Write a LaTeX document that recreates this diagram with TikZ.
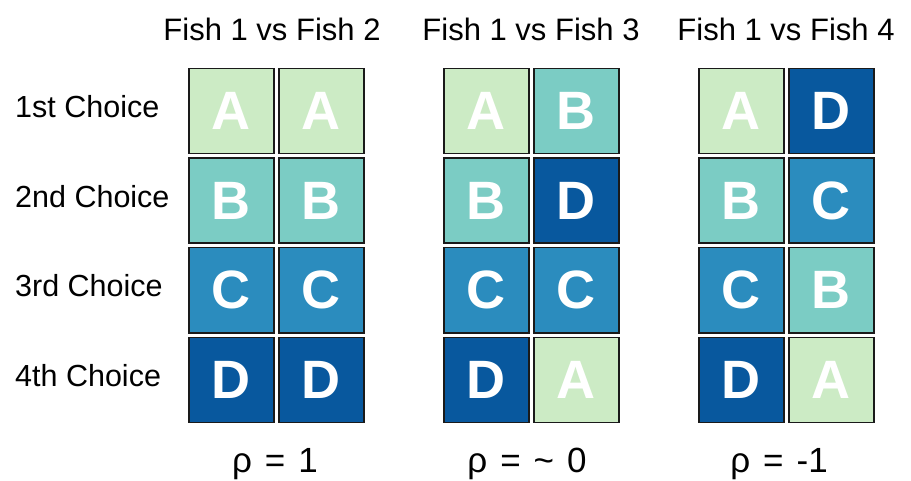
\documentclass[tikz,border=0pt]{standalone}
\usepackage{fontspec}
\setmainfont{Liberation Sans}
\definecolor{cA}{HTML}{CCEBC5}
\definecolor{cB}{HTML}{7BCCC4}
\definecolor{cC}{HTML}{2B8CBE}
\definecolor{cD}{HTML}{08589E}
\definecolor{edge}{HTML}{1A1A1A}
\tikzset{
  cell/.style={draw=edge, line width=1.5pt, minimum size=85pt, inner sep=0pt,
    anchor=north west, text=white, font=\fontsize{54}{54}\selectfont\bfseries},
  title/.style={anchor=base, inner sep=0pt, font=\fontsize{31}{31}\selectfont},
  rowlab/.style={anchor=base west, inner sep=0pt, font=\fontsize{30.5}{30.5}\selectfont},
  rholab/.style={anchor=base, inner sep=0pt, font=\fontsize{35}{35}\selectfont},
}
\newcommand{\gap}{\hspace{13pt}}
\begin{document}
\begin{tikzpicture}[x=1pt,y=1pt]
\useasboundingbox[fill=white] (0,0) rectangle (911,-481);
% titles
\node[title] (t1) at (272,-41) {Fish 1 vs Fish 2};
\node[title] (t2) at (531,-41) {Fish 1 vs Fish 3};
\node[title] (t3) at (786,-41) {Fish 1 vs Fish 4};
% row labels
\node[rowlab] (r1) at (15,-118) {1st Choice};
\node[rowlab] (r2) at (15,-207.5) {2nd Choice};
\node[rowlab] (r3) at (15,-297) {3rd Choice};
\node[rowlab] (r4) at (15,-386.5) {4th Choice};
% cells
\foreach \g/\xa/\xb/\la/\lb/\lc/\ld/\ma/\mb/\mc/\md in {
  1/188/278/A/B/C/D/A/B/C/D,
  2/443/533/A/B/C/D/B/D/C/A,
  3/698/788/A/B/C/D/D/C/B/A}{
  \node[cell, fill=c\la] (g\g-1-1) at (\xa,-68) {\la};
  \node[cell, fill=c\lb] (g\g-1-2) at (\xa,-157.5) {\lb};
  \node[cell, fill=c\lc] (g\g-1-3) at (\xa,-247) {\lc};
  \node[cell, fill=c\ld] (g\g-1-4) at (\xa,-336.5) {\ld};
  \node[cell, fill=c\ma] (g\g-2-1) at (\xb,-68) {\ma};
  \node[cell, fill=c\mb] (g\g-2-2) at (\xb,-157.5) {\mb};
  \node[cell, fill=c\mc] (g\g-2-3) at (\xb,-247) {\mc};
  \node[cell, fill=c\md] (g\g-2-4) at (\xb,-336.5) {\md};
}
% correlation labels
\node[rholab] (p1) at (275,-472.5) {ρ\gap=\gap1};
\node[rholab] (p2) at (527,-472.5) {ρ\gap=\gap\char"007E\gap0};
\node[rholab] (p3) at (779,-472.5) {ρ\gap=\gap-1};
\end{tikzpicture}
\end{document}
